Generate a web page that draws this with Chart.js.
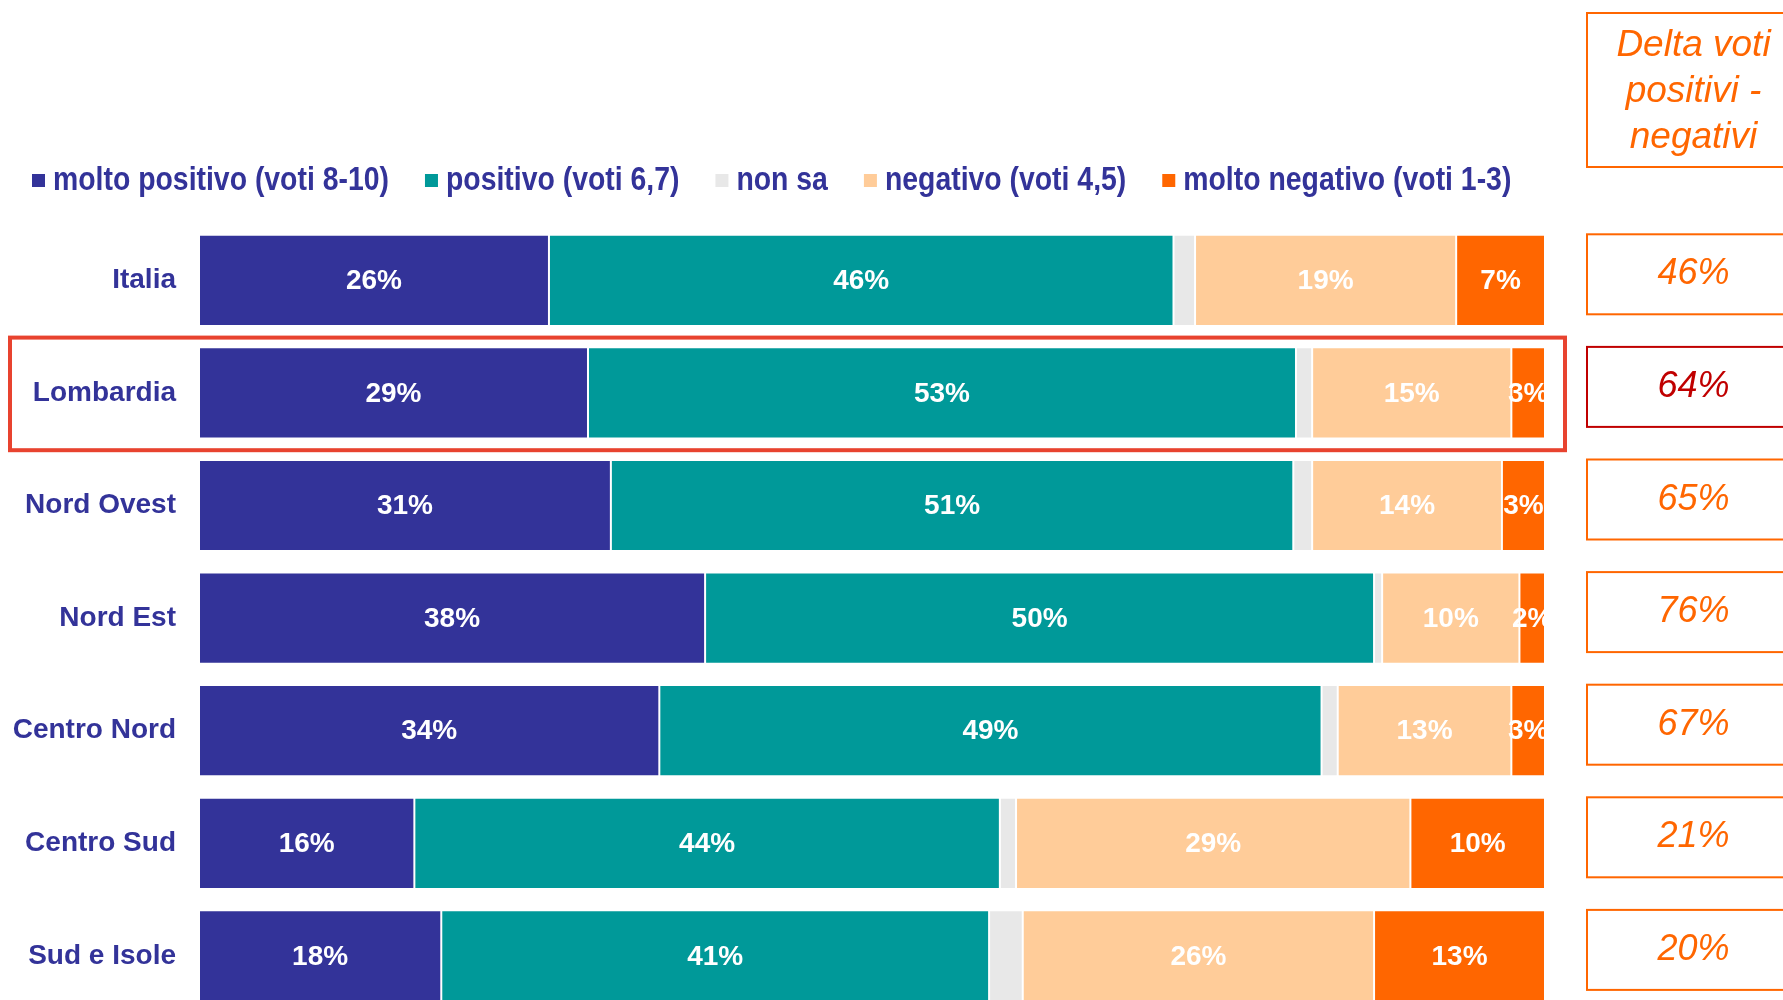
<!DOCTYPE html>
<html lang="it">
<head>
<meta charset="utf-8">
<title>Giudizio per area</title>
<script src="https://cdn.jsdelivr.net/npm/chart.js@4.4.1/dist/chart.umd.min.js"></script>
<style>
  html, body { margin: 0; padding: 0; background: #fff; overflow: hidden; }
  #votiChart { display: block; width: 1783px; height: 1052px; }
</style>
</head>
<body>
<canvas id="votiChart" width="1783" height="1052"></canvas>
<script>
// aree geografiche
const regions = ['Italia', 'Lombardia', 'Nord Ovest', 'Nord Est', 'Centro Nord', 'Centro Sud', 'Sud e Isole'];

// quote in % (le etichette sono arrotondate)
const moltoPositivo = [26.0, 28.9, 30.6, 37.6, 34.2, 16.0, 18.0];
const positivo      = [46.4, 52.6, 50.7, 49.7, 49.2, 43.5, 40.7];
const nonSa         = [1.6, 1.2, 1.4, 0.6, 1.2, 1.2, 2.5];
const negativo      = [19.4, 14.8, 14.1, 10.2, 12.9, 29.3, 26.1];
const moltoNegativo = [6.6, 2.5, 3.2, 1.9, 2.5, 10.0, 12.7];

// delta voti positivi - negativi
const delta = [46, 64, 65, 76, 67, 21, 20];
const deltaTitle = ['Delta voti', 'positivi -', 'negativi'];

const seriesNames = ['molto positivo (voti 8-10)', 'positivo (voti 6,7)', 'non sa', 'negativo (voti 4,5)', 'molto negativo (voti 1-3)'];
const highlighted = 'Lombardia';

const BLUE = '#333399';
const ORANGE = '#ff6600';
const DARK_RED = '#c00000';
const FONT = '"Liberation Sans", Arial, sans-serif';

// legenda in stile "Arial Narrow" (font compresso orizzontalmente)
const narrowLegend = {
    id: 'narrowLegend',
    afterDraw(chart) {
        const { ctx } = chart;
        const squeeze = 0.835;
        const y = 180;
        let x = 32;
        ctx.save();
        ctx.font = 'bold 34px ' + FONT;
        ctx.textBaseline = 'middle';
        ctx.textAlign = 'left';
        chart.data.datasets.forEach(ds => {
            ctx.fillStyle = ds.backgroundColor;
            ctx.fillRect(x, y - 6, 13, 13);
            const tx = x + 21;
            const w = ctx.measureText(ds.label).width * squeeze;
            ctx.save();
            ctx.translate(tx, y);
            ctx.scale(squeeze, 1);
            ctx.fillStyle = BLUE;
            ctx.fillText(ds.label, 0, 1);
            ctx.restore();
            x = tx + w + 36;
        });
        ctx.restore();
    }
};

// etichette bianche dentro i segmenti
const segmentLabels = {
    id: 'segmentLabels',
    afterDatasetsDraw(chart) {
        const { ctx, chartArea } = chart;
        ctx.save();
        ctx.beginPath();
        ctx.rect(chartArea.left, chartArea.top, chartArea.right - chartArea.left, chartArea.bottom - chartArea.top);
        ctx.clip();
        ctx.font = 'bold 28px ' + FONT;
        ctx.fillStyle = '#fff';
        ctx.textAlign = 'center';
        ctx.textBaseline = 'middle';
        chart.data.datasets.forEach((ds, i) => {
            if (ds.noLabel) return;
            chart.getDatasetMeta(i).data.forEach((bar, j) => {
                ctx.fillText(Math.round(ds.data[j]) + '%', (bar.x + bar.base) / 2, bar.y + 1);
            });
        });
        ctx.restore();
    }
};

// colonna "Delta" a destra + riquadro rosso su Lombardia
const deltaColumn = {
    id: 'deltaColumn',
    afterDraw(chart) {
        const { ctx, chartArea } = chart;
        const yScale = chart.scales.y;
        const boxLeft = chartArea.right + 42;
        const boxRight = boxLeft + 213;
        const centerX = (boxLeft + boxRight) / 2;
        ctx.save();

        // intestazione
        ctx.strokeStyle = ORANGE;
        ctx.lineWidth = 2;
        ctx.strokeRect(boxLeft, 13, boxRight - boxLeft, 154);
        ctx.fillStyle = ORANGE;
        ctx.font = 'italic 37px ' + FONT;
        ctx.textAlign = 'center';
        ctx.textBaseline = 'middle';
        deltaTitle.forEach((line, i) => ctx.fillText(line, centerX, 46 + i * 46));

        // un riquadro per area
        const band = yScale.getPixelForValue(1) - yScale.getPixelForValue(0);
        ctx.font = 'italic 36px ' + FONT;
        regions.forEach((r, i) => {
            const cy = yScale.getPixelForValue(i) - 6;
            const col = r === highlighted ? DARK_RED : ORANGE;
            ctx.strokeStyle = col;
            ctx.fillStyle = col;
            ctx.strokeRect(boxLeft, cy - 40, boxRight - boxLeft, 80);
            ctx.fillText(delta[i] + '%', centerX, cy);
        });

        // evidenziazione
        const hi = regions.indexOf(highlighted);
        if (hi >= 0) {
            const cy = yScale.getPixelForValue(hi);
            ctx.strokeStyle = '#e8432f';
            ctx.lineWidth = 4;
            ctx.strokeRect(10, cy - band / 2 + 1, chartArea.right + 20 - 10, band);
        }
        ctx.restore();
    }
};

const colors = [BLUE, '#009999', '#e8e8e8', '#ffcc99', ORANGE];
const values = [moltoPositivo, positivo, nonSa, negativo, moltoNegativo];

const datasets = seriesNames.map((name, i) => ({
    label: name,
    data: values[i],
    backgroundColor: colors[i],
    borderColor: '#ffffff',
    borderWidth: 1,
    borderSkipped: false,
    noLabel: name === 'non sa',
    barPercentage: 0.81,
    categoryPercentage: 1
}));

new Chart(document.getElementById('votiChart'), {
    type: 'bar',
    data: { labels: regions, datasets: datasets },
    options: {
        indexAxis: 'y',
        responsive: false,
        animation: false,
        layout: { padding: { top: 224, left: 5, right: 238, bottom: 0 } },
        scales: {
            x: {
                stacked: true,
                display: false,
                min: 0,
                max: 100
            },
            y: {
                stacked: true,
                grid: { display: false, drawTicks: false },
                border: { display: false },
                ticks: {
                    color: BLUE,
                    padding: 23,
                    font: { family: FONT, size: 28, weight: 'bold' }
                },
                afterFit(scale) { scale.width = 194; }
            }
        },
        plugins: {
            legend: { display: false },
            tooltip: { enabled: false }
        }
    },
    plugins: [segmentLabels, deltaColumn, narrowLegend]
});
</script>
</body>
</html>
